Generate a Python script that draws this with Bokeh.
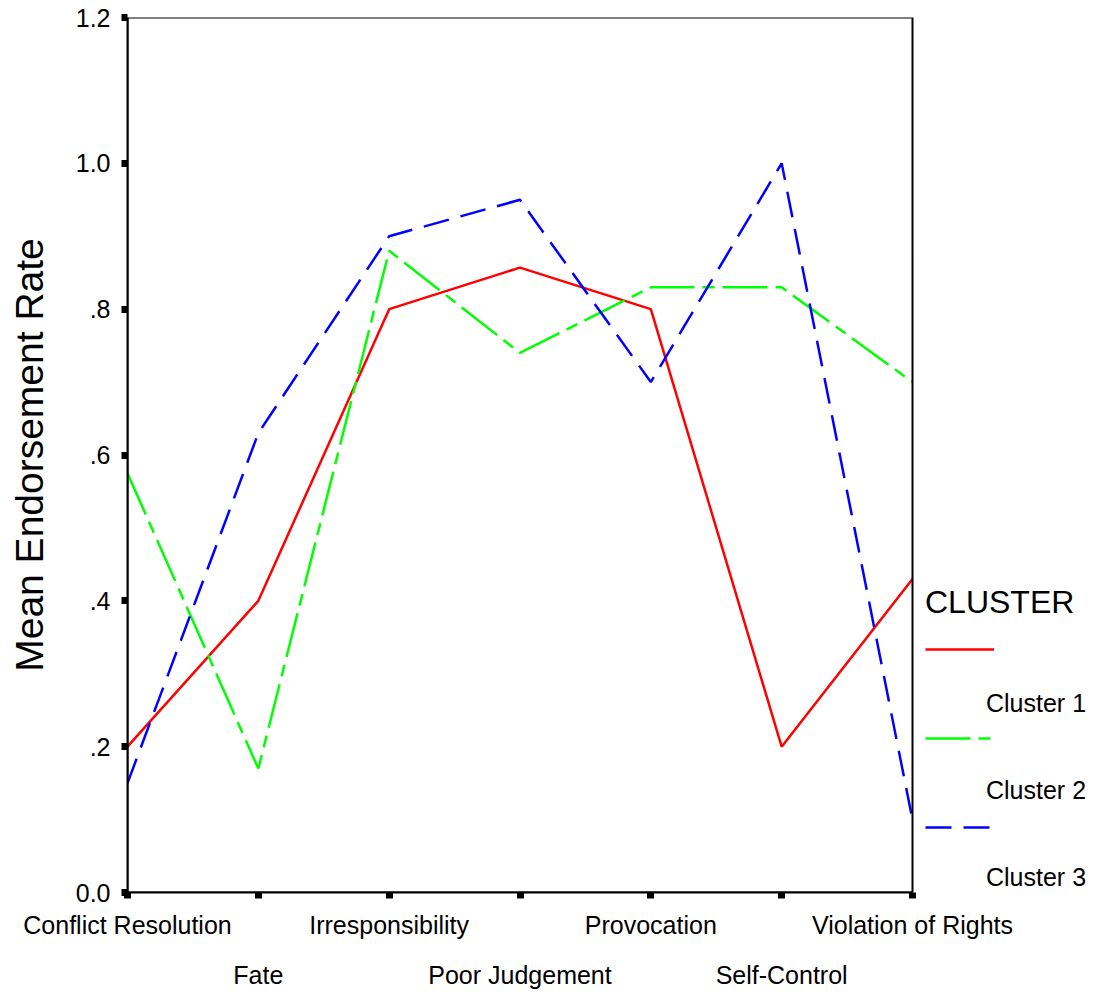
from bokeh.plotting import figure
from bokeh.models import Range1d, FixedTicker, LinearAxis, Legend, LegendItem, BoxAnnotation
from bokeh.embed import file_html
from bokeh.resources import INLINE

categories = ["Conflict Resolution", "Fate", "Irresponsibility", "Poor Judgement",
              "Provocation", "Self-Control", "Violation of Rights"]
cluster1 = [0.20, 0.40, 0.80, 0.857, 0.80, 0.20, 0.43]
cluster2 = [0.575, 0.17, 0.88, 0.74, 0.83, 0.83, 0.70]
cluster3 = [0.15, 0.63, 0.90, 0.95, 0.70, 1.00, 0.10]
series_names = ["Cluster 1", "Cluster 2", "Cluster 3"]
y_ticks = [0.0, 0.2, 0.4, 0.6, 0.8, 1.0, 1.2]
y_tick_labels = ["0.0", ".2", ".4", ".6", ".8", "1.0", "1.2"]

FONT = "Liberation Sans"
xs = list(range(len(categories)))
x_lo, x_hi = 0, len(categories) - 1
y_lo, y_hi = y_ticks[0], y_ticks[-1]

# Frame extends right to hold the legend; the plot box covers only the data area.
FRAME_LEFT, PLOT_W, FIG_W = 127, 785, 1096
x_end = x_hi * (FIG_W - FRAME_LEFT) / PLOT_W

p = figure(width=FIG_W, height=991, output_backend="svg", toolbar_location=None,
           x_range=Range1d(x_lo, x_end), y_range=Range1d(y_lo, y_hi),
           min_border_left=FRAME_LEFT, min_border_right=0, min_border_top=17,
           min_border_bottom=0)
p.background_fill_color = "white"
p.border_fill_color = "white"
p.outline_line_color = None
p.grid.visible = False

colors = ["#ff0000", "#00ff00", "#0000ff"]
dashes = ["solid", "45 8 12 8", "26 12"]
series = [cluster1, cluster2, cluster3]

lines = []
for vals, c, d in zip(series, colors, dashes):
    lines.append(p.line(xs, vals, line_color=c, line_width=2.5, line_dash=d))

p.add_layout(BoxAnnotation(left=x_lo, right=x_hi, bottom=y_lo, top=y_hi,
                           fill_alpha=0, line_color="black", line_alpha=1.0,
                           line_width=2))

# y axis
ya = p.yaxis[0]
ya.ticker = FixedTicker(ticks=y_ticks)
ya.major_label_overrides = {t: l for t, l in zip(y_ticks, y_tick_labels)}
ya.axis_label = "Mean Endorsement Rate"
ya.axis_label_text_font = FONT
ya.axis_label_text_font_size = "39px"
ya.axis_label_text_font_style = "normal"
ya.axis_label_text_color = "black"
ya.axis_label_standoff = 22
ya.major_label_text_font = FONT
ya.major_label_text_font_size = "25px"
ya.major_label_text_color = "black"
ya.major_label_standoff = 11
ya.axis_line_width = 2
ya.axis_line_color = "black"
ya.major_tick_in = 0
ya.major_tick_out = 6
ya.major_tick_line_width = 7
ya.major_tick_line_color = "black"
ya.minor_tick_line_color = None

# x axis, first row of labels
xa = p.xaxis[0]
xa.ticker = FixedTicker(ticks=xs)
xa.bounds = (x_lo, x_hi)
xa.major_label_overrides = {i: (c if i % 2 == 0 else "") for i, c in zip(xs, categories)}
xa.major_label_text_font = FONT
xa.major_label_text_font_size = "25px"
xa.major_label_text_color = "black"
xa.major_label_standoff = 12
xa.axis_line_width = 2
xa.axis_line_color = "black"
xa.major_tick_in = 0
xa.major_tick_out = 6
xa.major_tick_line_width = 7
xa.major_tick_line_color = "black"
xa.minor_tick_line_color = None

# x axis, second row of labels
xb = LinearAxis(ticker=FixedTicker(ticks=[i for i in xs if i % 2 == 1]))
xb.bounds = (x_lo, x_hi)
xb.major_label_overrides = {i: c for i, c in zip(xs, categories) if i % 2 == 1}
xb.major_label_text_font = FONT
xb.major_label_text_font_size = "25px"
xb.major_label_text_color = "black"
xb.major_label_standoff = 19
xb.axis_line_color = None
xb.major_tick_line_color = None
xb.minor_tick_line_color = None
xb.major_tick_in = 0
xb.major_tick_out = 0
p.add_layout(xb, "below")

# legend: title and line samples
leg1 = Legend(items=[LegendItem(label=" ", renderers=[r]) for r in lines],
              location=(798, 55), title="CLUSTER",
              title_text_font=FONT, title_text_font_size="32px",
              title_text_font_style="normal", title_text_color="black",
              title_standoff=18, glyph_width=69, glyph_height=20,
              label_height=20, label_text_font_size="10px", spacing=69,
              margin=0, padding=0, border_line_color=None,
              background_fill_alpha=0, label_standoff=0)
# legend: series names, placed between the samples
leg2 = Legend(items=[LegendItem(label=n, renderers=[r]) for n, r in zip(series_names, lines)],
              location=(859, 0), glyph_width=0, glyph_height=26,
              label_height=26, label_text_font=FONT, label_text_font_size="25px",
              label_text_color="black", spacing=58, label_standoff=0,
              margin=0, padding=0, border_line_color=None,
              background_fill_alpha=0)
p.add_layout(leg1, "center")
p.add_layout(leg2, "center")

open("out.html", "w").write(file_html(p, INLINE))
